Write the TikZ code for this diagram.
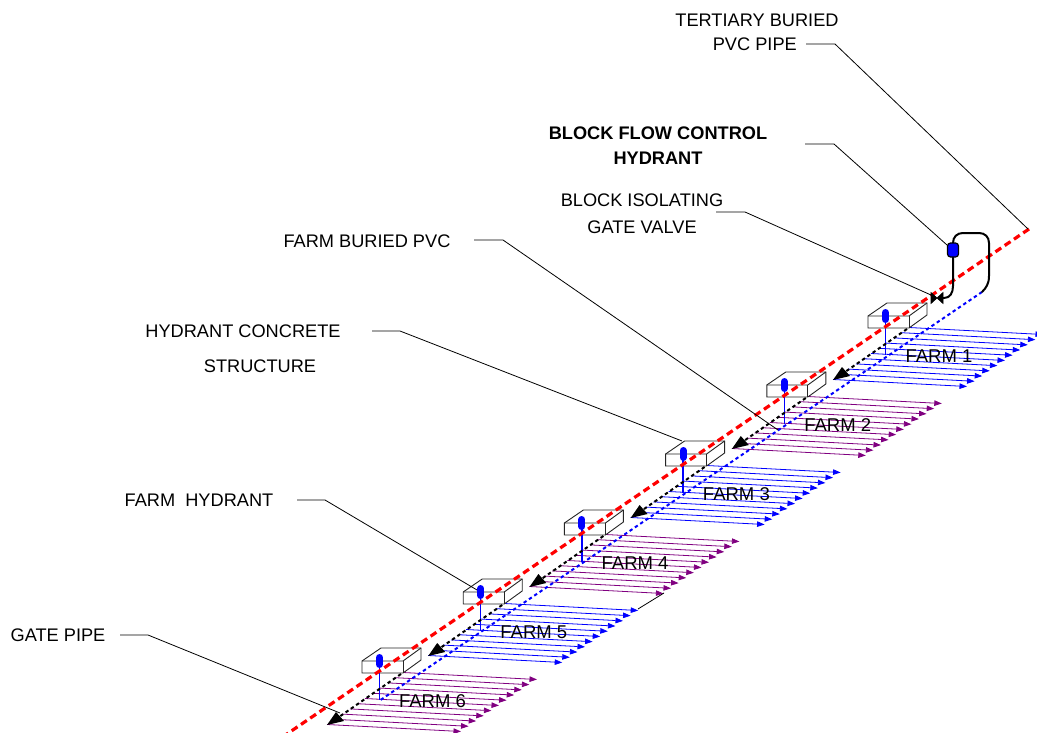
\documentclass[tikz,border=0pt]{standalone}
\usepackage{fontspec}
\setmainfont{Liberation Sans}
\usetikzlibrary{arrows.meta}
\definecolor{farmpurple}{RGB}{128,0,128}
\tikzset{
  leader/.style={line width=0.8pt},
  redpipe/.style={red, line width=3.2pt, dash pattern=on 7pt off 4.2pt},
  bluepipe/.style={blue, line width=2pt, dash pattern=on 3.4pt off 3pt},
  blackpipe/.style={black, line width=2pt, dash pattern=on 3.4pt off 3pt},
  riser/.style={black, line width=2pt, line cap=round},
  furrow/.style={line width=0.8pt, -{Triangle[length=7.5pt,width=5.5pt]}},
  concrete/.style={line width=0.9pt, black!85},
  lbl/.style={font=\fontsize{18.2}{20}\selectfont, inner sep=0pt},
  farmlbl/.style={font=\fontsize{18.5}{20}\selectfont, inner sep=0pt}
}
\begin{document}
\begin{tikzpicture}[x=1pt, y=-1pt]
  \useasboundingbox (0,0) rectangle (1037,733);
  \clip (0,0) rectangle (1037,733);
  % labels
  \node[lbl] (tertiaryA) at (757,20) {TERTIARY BURIED};
  \node[lbl, anchor=east] (tertiaryB) at (797,44) {PVC PIPE};
  \node[lbl, font=\fontsize{18.2}{20}\selectfont\bfseries] (flowA) at (658,133) {BLOCK FLOW CONTROL};
  \node[lbl, font=\fontsize{18.2}{20}\selectfont\bfseries] (flowB) at (658,158) {HYDRANT};
  \node[lbl] (gateA) at (642,200) {BLOCK ISOLATING};
  \node[lbl] (gateB) at (642,227) {GATE VALVE};
  \node[lbl] (buried) at (367,241) {FARM BURIED PVC};
  \node[lbl] (concreteA) at (243,331) {HYDRANT CONCRETE};
  \node[lbl] (concreteB) at (260,366) {STRUCTURE};
  \node[lbl] (hydrant) at (199,500) {FARM\ \ HYDRANT};
  \node[lbl] (gatepipe) at (58,635) {GATE PIPE};
  % farms, from the head of the block downwards
  \foreach \n/\col in {1/blue, 2/farmpurple, 3/blue, 4/farmpurple, 5/blue, 6/farmpurple} {
    \begin{scope}[shift={({-101.2*(\n-1)},{69*(\n-1)})}]
      \foreach \k in {0,...,10}
        \draw[furrow, \col] ({909-7.6*\k},{327.5+5.2*\k}) -- ++(134,7);
      % concrete box
      \draw[concrete, fill=white] (868,316) -- (887,303) -- (927,303) -- (927,315) -- (909,328) -- (868,328) -- cycle;
      \draw[concrete] (868,316) -- (909,316) -- (927,303);
      \draw[concrete] (909,316) -- (909,328);
      \draw[blue, line width=1.3pt] (885.5,320) -- (885.5,355);
      \draw[blackpipe] (907,329) -- (845,372);
      \fill (833,380) -- (842,367) -- (850,376) -- cycle;
    \end{scope}
  }
  \draw[black, line width=0.8pt] (638,609) -- (664,593);
  % main lines
  \draw[bluepipe] (982,292) -- (379,701);
  \draw[redpipe] (1029,229) -- (284,736);
  % hydrants go on top of the red line
  \foreach \n in {1,...,6}
    \draw[blue, line width=7pt, line cap=round] ({885.5-101.2*(\n-1)},{312.5+69*(\n-1)}) -- ++(0,7);
  % hydrant riser and valve
  \draw[riser] (943,298) -- (944,298) .. controls (950,298) and (953,293) .. (953,286) -- (953,243)
    .. controls (953,237) and (957,233) .. (963,233) -- (979,233)
    .. controls (985,233) and (989,237) .. (989,243) -- (989,276)
    .. controls (989,284) and (986,288) .. (982,292);
  \draw[fill=black, line width=0.6pt] (931,292.5) -- (943,303.5) -- (943,292.5) -- (931,303.5) -- cycle;
  \node[draw=black, fill=blue, line width=1.2pt, minimum width=11pt, minimum height=14pt, inner sep=0pt, rounded corners=3pt] (flowvalve) at (953,250) {};
  % leaders
  \coordinate (tertiaryEnd) at (1028,229);
  \coordinate (flowEnd) at (947,245);
  \coordinate (gateEnd) at (931,295);
  \coordinate (buriedEnd) at (778,430);
  \coordinate (concreteEnd) at (682,441);
  \coordinate (hydrantEnd) at (477,590);
  \coordinate (gatepipeEnd) at (340,713);
  \draw[leader] (806,44) -- (835,44) -- (tertiaryEnd);
  \draw[leader] (805,144) -- (834,144) -- (flowEnd);
  \draw[leader] (716,212) -- (745,212) -- (gateEnd);
  \draw[leader] (474,240) -- (503,240) -- (buriedEnd);
  \draw[leader] (372,331) -- (400,331) -- (concreteEnd);
  \draw[leader] (297,500) -- (325,500) -- (hydrantEnd);
  \draw[leader] (120,635) -- (148,635) -- (gatepipeEnd);
  % farm names
  \foreach \n in {1,...,6}
    \node[farmlbl] (farm\n) at ({939-101.3*(\n-1)},{356+69*(\n-1)}) {FARM \n};
\end{tikzpicture}
\end{document}
